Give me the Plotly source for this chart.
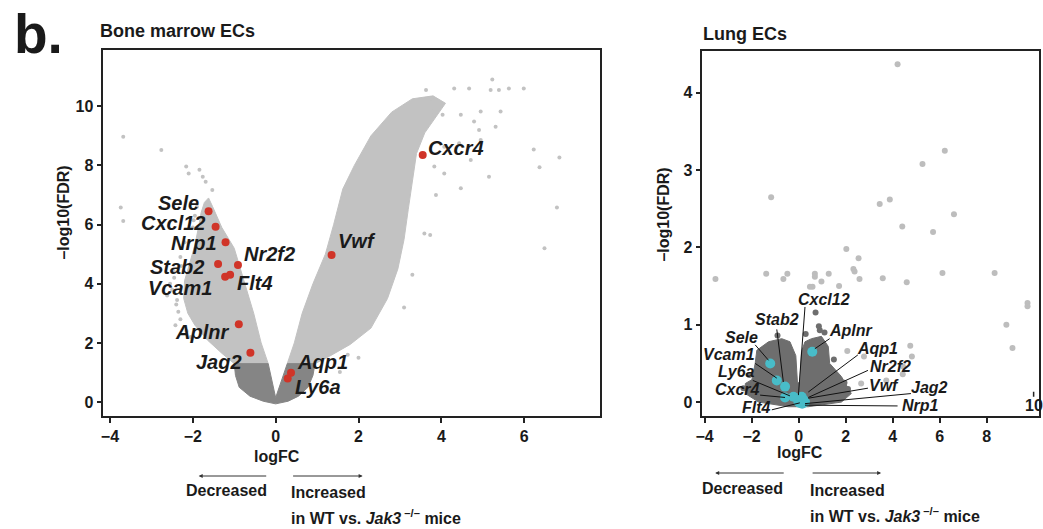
import plotly.graph_objects as go

W, H = 1043, 529
FONT = "Liberation Sans"
LIGHT = "#c2c2c2"
DARK_BM = "#858585"
DARK_LU = "#6e6e6e"
LIGHT_LU = "#bdbdbd"
RED = "#d03428"
CYAN = "#48bcc8"

# ---------------- Bone marrow ECs ----------------
# dense cloud outlines (logFC, -log10 FDR)
bm_left_arm_x = [-1.0, -1.3, -1.65, -1.95, -2.12, -2.22, -2.2, -2.08, -1.95, -1.85, -1.8, -1.72, -1.62,
                 -1.52, -1.3, -1.0, -0.75, -0.53, -0.35, -0.18]
bm_left_arm_y = [1.3, 1.65, 2.1, 2.6, 3.0, 3.5, 4.1, 4.7, 5.3, 6.0, 6.4, 6.75, 6.9,
                 6.6, 5.9, 5.2, 4.0, 3.0, 2.0, 1.3]
bm_right_arm_x = [0.28, 0.45, 0.64, 0.9, 1.2, 1.4, 1.62, 1.9, 2.3, 2.8, 3.3, 3.8,
                  4.1, 3.9, 3.6, 3.4, 3.3, 3.2, 3.1, 2.95, 2.7, 2.3, 1.8, 1.3, 0.95]
bm_right_arm_y = [1.3, 2.0, 3.0, 4.0, 5.0, 6.0, 7.2, 8.0, 9.0, 9.8, 10.25, 10.35,
                  10.1, 9.7, 9.1, 8.4, 7.5, 6.5, 5.5, 4.5, 3.5, 2.5, 1.95, 1.55, 1.3]
bm_ns_x = [-1.0, -0.97, -0.88, -0.62, -0.3, 0.0, 0.3, 0.55, 0.78, 0.9, 0.95, 0.28, 0.0, -0.18]
bm_ns_y = [1.3, 0.9, 0.5, 0.2, 0.03, -0.06, 0.03, 0.2, 0.5, 0.9, 1.3, 1.3, 0.15, 1.3]

# sparse individual genes outside the dense cloud
bm_sparse_x = [-3.68, -2.76, -2.16, -2.1, -1.84, -1.76, -1.69, -1.53, -3.74, -3.68,
               -2.45, -2.5, -2.4, -2.3, -2.15, -2.55, -2.3, -2.2, -2.0, -1.95, -2.62, -2.42,
               -2.35, -2.28, -2.45, -2.38, -2.05, -1.98, -1.9,
               3.63, 4.31, 4.67, 5.23, 5.19, 5.39, 5.63, 5.99, 5.43, 5.31, 4.95, 6.23, 6.85,
               6.37, 5.15, 6.79, 4.47, 4.71, 4.95, 3.75, 3.77, 4.03, 4.47, 4.79, 4.91, 4.07,
               4.43, 3.59, 3.73, 3.87, 4.07, 3.83, 6.49, 1.55, 1.74, 2.0, 3.1, 3.3]
bm_sparse_y = [8.97, 8.52, 7.96, 7.73, 7.85, 7.62, 7.45, 7.17, 6.58, 6.12,
               4.4, 3.8, 3.3, 2.8, 2.4, 4.0, 4.9, 5.4, 5.9, 6.3, 3.6, 2.6,
               3.05, 4.6, 4.2, 3.45, 2.2, 6.15, 6.6,
               10.55, 10.6, 10.6, 10.9, 10.55, 10.55, 10.6, 10.6, 9.82, 9.31, 9.82, 8.54, 8.27,
               7.94, 7.62, 6.58, 7.23, 8.18, 8.86, 10.27, 9.82, 9.71, 9.71, 9.48, 9.2, 8.63,
               8.75, 5.7, 5.65, 7.0, 7.73, 7.96, 5.2, 1.02, 1.6, 1.5, 3.2, 4.3]

genes_bm = ["Sele", "Cxcl12", "Nrp1", "Stab2", "Vcam1", "Flt4", "Nr2f2", "Aplnr", "Jag2",
            "Aqp1", "Ly6a", "Vwf", "Cxcr4"]
bm_fc = [-1.62, -1.45, -1.21, -1.39, -1.22, -1.10, -0.91, -0.89, -0.61, 0.37, 0.29, 1.35, 3.55]
bm_fdr = [6.45, 5.93, 5.40, 4.67, 4.24, 4.30, 4.63, 2.63, 1.67, 0.99, 0.80, 4.97, 8.35]
# label anchor (x, y, side) for each gene
bm_lab = {"Sele": (-1.8, 6.72, "right"), "Cxcl12": (-1.64, 6.04, "right"), "Nrp1": (-1.36, 5.37, "right"),
          "Stab2": (-1.68, 4.56, "right"), "Vcam1": (-1.46, 3.85, "right"), "Flt4": (-0.98, 4.01, "left"),
          "Nr2f2": (-0.82, 5.0, "left"), "Aplnr": (-1.09, 2.38, "right"), "Jag2": (-0.76, 1.36, "right"),
          "Aqp1": (0.46, 1.36, "left"), "Ly6a": (0.41, 0.50, "left"), "Vwf": (1.45, 5.44, "left"),
          "Cxcr4": (3.64, 8.59, "left")}

# ---------------- Lung ECs ----------------
lu_ns_x = [-2.27, -2.27, -1.99, -1.85, -1.78, -1.28, -0.72, -0.37, -0.12, -0.05, 0.05, 0.12, 0.27,
           0.55, 0.97, 1.26, 1.32, 1.82, 2.24, 1.82, 0.41, -0.44, -1.7]
lu_ns_y = [0.11, 0.24, 0.29, 0.50, 0.67, 0.78, 0.82, 0.78, 0.60, 0.25, 0.25, 0.65, 0.78,
           0.82, 0.85, 0.72, 0.50, 0.33, 0.11, 0.0, -0.06, -0.06, 0.0]
lu_pts_x = [4.21, 6.22, 5.27, -1.17, 3.45, 3.88, 6.61, 4.41, 5.72, 2.03, 2.55, 2.33,
            3.58, 4.6, 6.12, 8.34, 9.74, 9.74, 8.84, 9.1, 4.75, 4.82, 4.43,
            -3.54, -1.38, -0.48, -0.65, 0.69, 0.69, 1.28, 2.38, 2.59, 1.72, 0.48, 0.59, 0.97,
            2.07, 2.78, 4.44, 3.73, 2.66]
lu_pts_y = [4.37, 3.25, 3.08, 2.65, 2.56, 2.62, 2.43, 2.27, 2.20, 1.98, 1.86, 1.72,
            1.60, 1.55, 1.67, 1.67, 1.28, 1.24, 1.0, 0.70, 0.73, 0.59, 0.36,
            1.59, 1.66, 1.66, 1.59, 1.66, 1.62, 1.66, 1.69, 1.59, 1.5, 1.49, 1.49, 1.56,
            0.66, 0.59, 0.46, 0.28, 0.24]
lu_dark_x = [0.72, 0.86, -2.1, -1.6, 1.5, 1.95, 2.1, 0.9, 0.3, -0.9, -2.35, 1.1, -1.4]
lu_dark_y = [1.16, 0.98, 0.35, 0.64, 0.55, 0.25, 0.17, 0.93, 0.88, 0.86, 0.18, 0.9, 0.7]

genes_lu = ["Cxcl12", "Stab2", "Aplnr", "Sele", "Vcam1", "Aqp1", "Ly6a", "Nr2f2", "Cxcr4", "Vwf",
            "Jag2", "Flt4", "Nrp1"]
lu_fc = [-0.01, -0.58, 0.58, -1.21, -0.93, 0.13, -0.22, 0.20, -0.58, 0.27, 0.15, 0.05, 0.10]
lu_fdr = [0.00, 0.20, 0.65, 0.50, 0.28, 0.07, 0.07, 0.03, 0.06, 0.0, -0.02, -0.01, 0.04]
# label centre and leader line (start x, start y, end x, end y)
lu_lab = {"Cxcl12": (1.09, 1.33, 0.27, 1.23, -0.01, 0.09), "Stab2": (-0.93, 1.07, -0.93, 0.94, -0.65, 0.26),
          "Aplnr": (2.24, 0.92, 1.32, 0.82, 0.69, 0.69), "Sele": (-2.43, 0.84, -1.85, 0.74, -1.28, 0.54),
          "Vcam1": (-2.95, 0.62, -1.85, 0.50, -0.93, 0.31), "Aqp1": (3.37, 0.69, 2.52, 0.61, 0.41, 0.13),
          "Ly6a": (-2.64, 0.39, -1.95, 0.28, -0.37, 0.08), "Nr2f2": (3.9, 0.46, 2.95, 0.41, 0.41, 0.06),
          "Cxcr4": (-2.62, 0.16, -1.64, 0.09, -0.58, 0.06), "Vwf": (3.62, 0.22, 2.95, 0.18, 0.41, 0.05),
          "Jag2": (5.59, 0.19, 4.78, 0.11, 0.27, -0.02), "Flt4": (-1.8, -0.07, -1.14, -0.1, 0.05, -0.01),
          "Nrp1": (5.17, -0.05, 4.21, -0.05, 0.27, -0.04)}

fig = go.Figure()

def poly(xs, ys, color, xa, ya):
    fig.add_trace(go.Scatter(x=xs + xs[:1], y=ys + ys[:1], mode="lines", fill="toself",
                             fillcolor=color, line=dict(color=color, width=1),
                             hoverinfo="skip", showlegend=False, xaxis=xa, yaxis=ya))

# bone marrow
poly(bm_left_arm_x, bm_left_arm_y, LIGHT, "x", "y")
poly(bm_right_arm_x, bm_right_arm_y, LIGHT, "x", "y")
poly(bm_ns_x, bm_ns_y, DARK_BM, "x", "y")
fig.add_trace(go.Scatter(x=bm_sparse_x, y=bm_sparse_y, mode="markers",
                         marker=dict(color=LIGHT, size=4), showlegend=False, xaxis="x", yaxis="y"))
fig.add_trace(go.Scatter(x=bm_fc, y=bm_fdr, mode="markers",
                         marker=dict(color=RED, size=8), showlegend=False, xaxis="x", yaxis="y"))

# lung
poly(lu_ns_x, lu_ns_y, DARK_LU, "x2", "y2")
fig.add_trace(go.Scatter(x=lu_pts_x, y=lu_pts_y, mode="markers",
                         marker=dict(color=LIGHT_LU, size=6), showlegend=False, xaxis="x2", yaxis="y2"))
fig.add_trace(go.Scatter(x=lu_dark_x, y=lu_dark_y, mode="markers",
                         marker=dict(color=DARK_LU, size=6), showlegend=False, xaxis="x2", yaxis="y2"))
for g in genes_lu:
    lx, ly, sx, sy, ex, ey = lu_lab[g]
    fig.add_shape(type="line", xref="x2", yref="y2", x0=sx, y0=sy, x1=ex, y1=ey,
                  line=dict(color="#111", width=1))
fig.add_trace(go.Scatter(x=lu_fc, y=lu_fdr, mode="markers",
                         marker=dict(color=CYAN, size=10), showlegend=False, xaxis="x2", yaxis="y2"))

ann = []
gfont_bm = dict(family=FONT, size=20, color="#1a1a1a", weight="bold", style="italic")
for g in genes_bm:
    lx, ly, side = bm_lab[g]
    ann.append(dict(x=lx, y=ly, xref="x", yref="y", text=g, showarrow=False, xanchor=side,
                    yanchor="middle", font=gfont_bm))
gfont_lu = dict(family=FONT, size=16, color="#1a1a1a", weight="bold", style="italic")
for g in genes_lu:
    lx, ly = lu_lab[g][:2]
    ann.append(dict(x=lx, y=ly, xref="x2", yref="y2", text=g, showarrow=False, xanchor="center",
                    yanchor="middle", font=gfont_lu))

def P(px, py):
    return px / W, 1 - py / H

def txt(px, py, text, size, xanchor="center", angle=0):
    x, y = P(px, py)
    ann.append(dict(x=x, y=y, xref="paper", yref="paper", text=text, showarrow=False,
                    xanchor=xanchor, yanchor="middle", textangle=angle,
                    font=dict(family=FONT, size=size, color="#1a1a1a", weight="bold")))

def arrow(px_from, px_to, py):
    x, y = P(px_to, py)
    ann.append(dict(x=x, y=y, xref="paper", yref="paper", ax=px_from - px_to, ay=0,
                    axref="pixel", ayref="pixel", text="", showarrow=True, arrowhead=2,
                    arrowsize=0.8, arrowwidth=1, arrowcolor="#333"))

txt(32, 34, "b.", 55)
txt(92, 31, "Bone marrow ECs", 18, "left")
txt(699, 34, "Lung ECs", 18, "left")
txt(56, 213, "–log10(FDR)", 16, angle=-90)
txt(660, 215, "–log10(FDR)", 16, angle=-90)
txt(272, 456, "logFC", 16)
txt(798, 452, "logFC", 16)
arrow(262, 193, 476)
arrow(287, 358, 476)
arrow(783, 713, 473)
arrow(810, 880, 473)
txt(221, 490, "Decreased", 16)
txt(284, 492, "Increased", 16, "left")
txt(284, 517, "in WT vs. <i>Jak3</i><sup> –/–</sup> mice", 16, "left")
txt(740, 488, "Decreased", 16)
txt(806, 490, "Increased", 16, "left")
txt(806, 515, "in WT vs. <i>Jak3</i><sup> –/–</sup> mice", 16, "left")
# stray "10" tick drawn inside the lung panel
ann.append(dict(x=10, y=-0.05, xref="x2", yref="y2", text="10", showarrow=False, xanchor="center",
                yanchor="middle", font=dict(family=FONT, size=16, color="#1a1a1a", weight="bold")))
fig.add_shape(type="line", xref="x2", yref="y2", x0=10, x1=10, y0=0.07, y1=0.135,
              line=dict(color="#222", width=1.5))

axcommon = dict(showline=True, linecolor="#222", linewidth=1.5, mirror=True, ticks="outside",
                ticklen=5, tickwidth=1.5, tickcolor="#222", showgrid=False, zeroline=False,
                tickfont=dict(family=FONT, size=16, color="#1a1a1a", weight="bold"))

fig.update_layout(
    width=W, height=H, margin=dict(l=0, r=0, t=0, b=0),
    paper_bgcolor="white", plot_bgcolor="white",
    xaxis=dict(domain=[97 / W, 597 / W], range=[-4.16, 7.83], tickvals=[-4, -2, 0, 2, 4, 6],
               anchor="y", **axcommon),
    yaxis=dict(domain=[1 - 416 / H, 1 - 50 / H], range=[-0.47, 11.9], tickvals=[0, 2, 4, 6, 8, 10],
               anchor="x", **axcommon),
    xaxis2=dict(domain=[700 / W, 1039 / W], range=[-4.1, 10.23], tickvals=[-4, -2, 0, 2, 4, 6, 8],
                anchor="y2", **axcommon),
    yaxis2=dict(domain=[1 - 416 / H, 1 - 51 / H], range=[-0.18, 4.54], tickvals=[0, 1, 2, 3, 4],
                anchor="x2", **axcommon),
    annotations=ann,
)

fig.write_html("out.html", config={"displayModeBar": False},
               post_script="document.body.style.margin='0';document.body.style.overflow='hidden';")
